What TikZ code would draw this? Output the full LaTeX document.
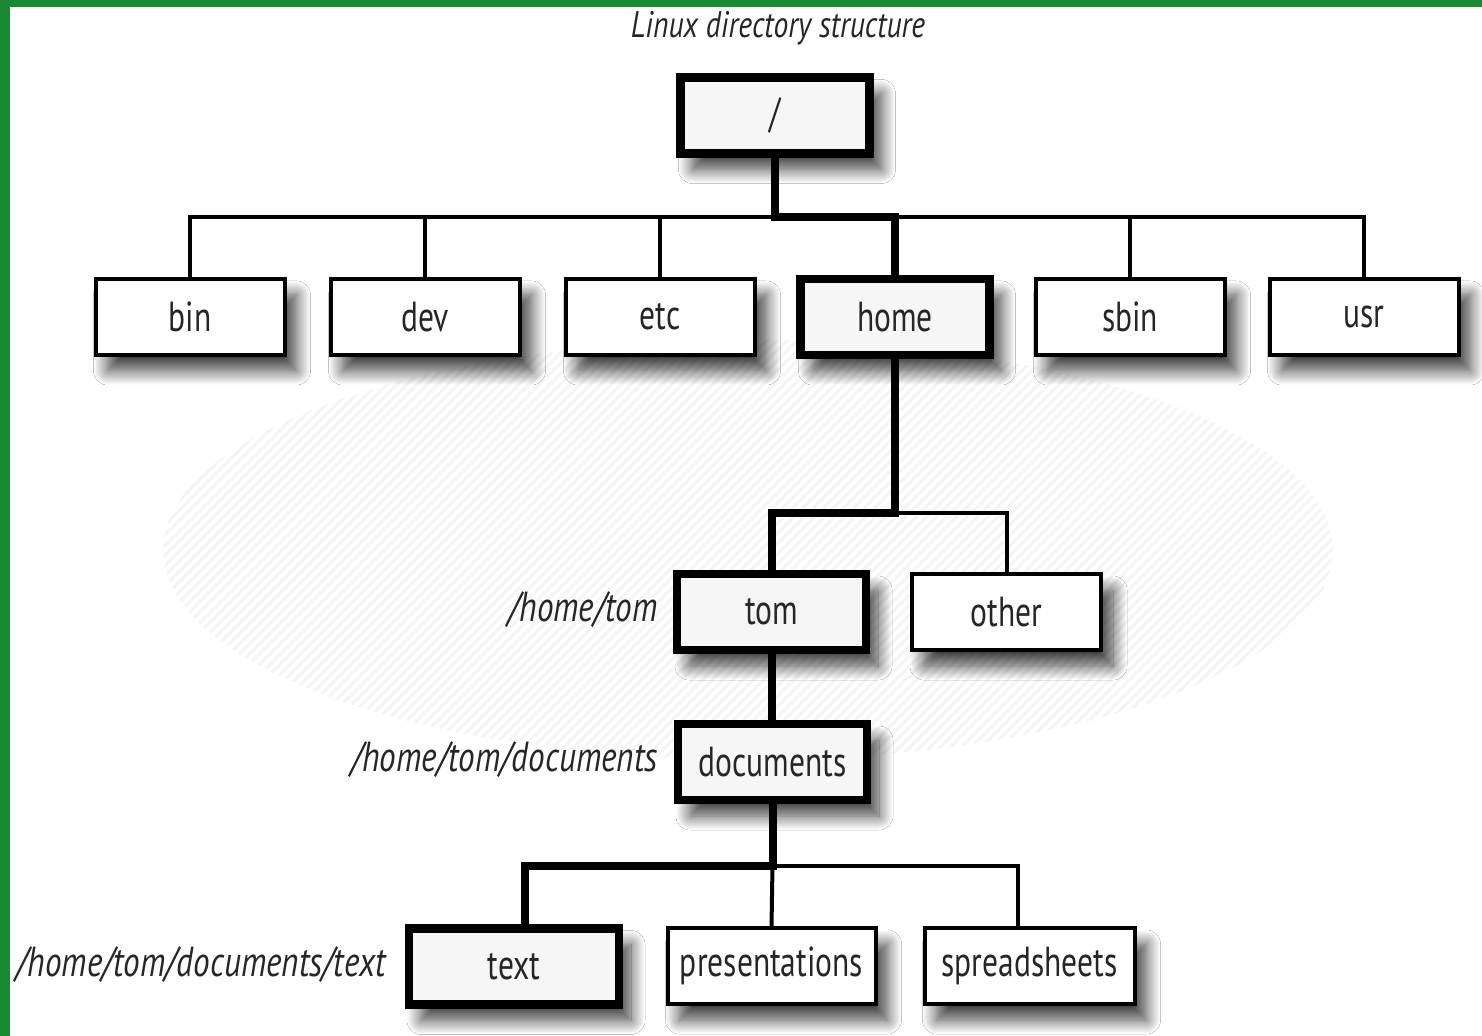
\documentclass[tikz,border=0pt]{standalone}
\usepackage{fontspec}
\setmainfont{PT Sans}[FakeStretch=0.75]
\newfontfamily\titlefont{PT Sans}[FakeStretch=0.8]
\newfontfamily\labelfont{PT Sans}[FakeStretch=0.79]
\usetikzlibrary{shadows.blur,patterns.meta}
\definecolor{slidegreen}{HTML}{1A8A32}
\definecolor{boxfill}{HTML}{F6F6F6}
\definecolor{txt}{HTML}{262626}
\tikzset{
  dir/.style={draw=black, line width=2pt, fill=white, minimum width=94.5pt,
    minimum height=38pt, inner sep=0pt, text=txt,
    font=\fontsize{21}{24}\selectfont,
    blur shadow={shadow xshift=6pt, shadow yshift=-8pt, shadow blur steps=16,
      shadow opacity=75, shadow blur radius=7pt}},
  pathdir/.style={dir, line width=4.2pt, fill=boxfill},
  pathlabel/.style={anchor=east, inner sep=0pt, text=txt,
    font=\labelfont\fontsize{21}{24}\selectfont\itshape},
  thin/.style={line width=2pt, line cap=rect},
  thick/.style={line width=4pt, line cap=rect},
}
\begin{document}
\begin{tikzpicture}[x=0.5pt, y=-0.5pt, line join=miter]
\useasboundingbox (0,0) rectangle (1482,1036);
% slide frame
\fill[white] (0,0) rectangle (1482,1036);
\fill[slidegreen] (0,0) rectangle (1482,7);
\fill[slidegreen] (0,0) rectangle (10,1036);

% faint hatched backdrop behind the lower tree
\path[pattern={Lines[angle=45, distance=3.6pt, line width=1.4pt]},
      pattern color=black!4] (748,550) ellipse [x radius=585, y radius=210];

% title
\node (title) at (778,28) {\titlefont\fontsize{18.5}{21}\selectfont\itshape\color{txt}Linux directory structure};

% directories
\node[pathdir] (root) at (775,115.5) {/};

\node[dir]     (bin)  at (190,317)  {bin};
\node[dir]     (dev)  at (425,317)  {dev};
\node[dir]     (etc)  at (660,317)  {etc};
\node[pathdir] (home) at (895,317)  {home};
\node[dir]     (sbin) at (1130,317) {sbin};
\node[dir]     (usr)  at (1364,317) {usr};

\node[pathdir] (tom)   at (771.5,612) {tom};
\node[dir]     (other) at (1006.5,612) {other};

\node[pathdir] (docs) at (772.5,762) {documents};

\node[pathdir, minimum width=105pt] (text)   at (514,966.5) {text};
\node[dir, minimum width=104pt]     (pres)   at (771.5,966) {presentations};
\node[dir, minimum width=105pt]     (spread) at (1029.5,966) {spreadsheets};

% full path labels
\node[pathlabel] (ltom)  at (658,610) {/home/tom};
\node[pathlabel] (ldocs) at (658,760) {/home/tom/documents};
\node[pathlabel] (ltext) at (386,965) {/home/tom/documents/text};

% branch points
\coordinate (bus1) at (775,217);
\coordinate (bus2) at (895,513);
\coordinate (bus3) at (772.5,866);
\coordinate (tj) at (525,866);
\coordinate (sj) at (1018,866);

% level 1 connectors
\draw[thin] (bin.north) -- (bin.north |- bus1) -- (usr.north |- bus1) -- (usr.north);
\foreach \n in {dev,etc,sbin} \draw[thin] (\n.north) -- (\n.north |- bus1);
\draw[thick] (root.south) -- (bus1) -- (home.north |- bus1) -- (home.north);

% level 2 connectors
\draw[thin] (bus2) -- (other.north |- bus2) -- (other.north);
\draw[thick] (home.south) -- (bus2) -- (tom.north |- bus2) -- (tom.north);
\draw[thick] (tom.south) -- (tom.south |- docs.north);

% level 3 connectors
\draw[thin] (bus3) -- (sj) -- (sj |- spread.north);
\draw[thin] (bus3) -- (pres.north);
\draw[thick] (docs.south) -- (bus3) -- (tj) -- (tj |- text.north);
\end{tikzpicture}
\end{document}
